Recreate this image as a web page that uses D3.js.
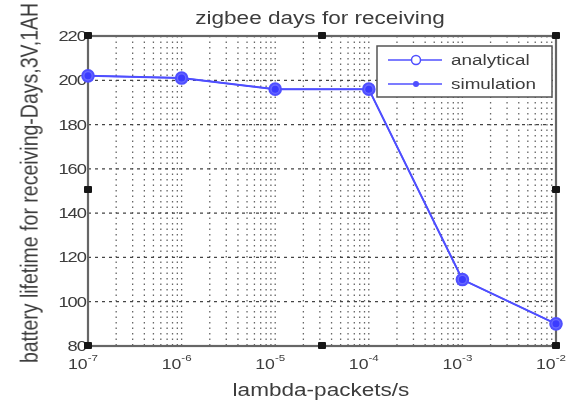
<!DOCTYPE html>
<html>
<head>
<meta charset="utf-8">
<script src="https://cdn.jsdelivr.net/npm/d3@7"></script>
<style>
  body { margin: 0; background: #fff; }
  text { font-family: "Liberation Sans", Arial, sans-serif; fill: #3c3c3c; }
</style>
</head>
<body>
<svg width="574" height="402"></svg>
<script>
  var lambda = [1e-7, 1e-6, 1e-5, 1e-4, 1e-3, 1e-2];
  var analytical = [202, 201, 196, 196, 110, 90];
  var simulation = [202, 201, 196, 196, 110, 90];
  var yTicks = [80, 100, 120, 140, 160, 180, 200, 220];
  var xTicks = [1e-7, 1e-6, 1e-5, 1e-4, 1e-3, 1e-2];
  var seriesNames = ["analytical", "simulation"];

(function (d3) {
  'use strict';

  var svg = d3.select("svg");
  var plotL = 88, plotR = 556, plotT = 36, plotB = 346;
  var blue = "#4f4fff";
  var stretch = 1.22; // the picture is a bit wider than tall

  svg.append("defs").append("filter").attr("id", "soft")
    .append("feGaussianBlur").attr("stdDeviation", 0.45);

  var x = d3.scaleLog().domain([1e-7, 1e-2]).range([plotL, plotR]);
  var y = d3.scaleLinear().domain([80, 220]).range([plotB, plotT]);

  var g = svg.append("g").attr("filter", "url(#soft)");

  function label(parent, px, py, size) {
    return parent.append("text")
      .attr("transform", "translate(" + px + "," + py + ") scale(" + stretch + ",1)")
      .attr("font-size", size);
  }

  // minor + major vertical grid
  var minor = [];
  for (var e = -7; e < -2; e++) {
    for (var m = 1; m <= 9; m++) minor.push(m * Math.pow(10, e));
  }
  g.selectAll(".vgrid")
    .data(minor.filter(function (v) { return v > 1e-7 && v < 1e-2; }))
    .enter().append("line")
    .attr("x1", function (d) { return x(d); })
    .attr("x2", function (d) { return x(d); })
    .attr("y1", plotT).attr("y2", plotB)
    .attr("stroke", "#666").attr("stroke-width", 1.3)
    .attr("stroke-dasharray", "1.5,4");

  g.selectAll(".hgrid")
    .data(yTicks.slice(1, -1))
    .enter().append("line")
    .attr("x1", plotL).attr("x2", plotR)
    .attr("y1", function (d) { return y(d); })
    .attr("y2", function (d) { return y(d); })
    .attr("stroke", "#444").attr("stroke-width", 1.3)
    .attr("stroke-dasharray", "3,4");

  // axes box
  g.append("rect")
    .attr("x", plotL).attr("y", plotT)
    .attr("width", plotR - plotL).attr("height", plotB - plotT)
    .attr("fill", "none").attr("stroke", "#666").attr("stroke-width", 2.2);

  // y tick labels
  yTicks.forEach(function (d) {
    label(g, plotL - 2, y(d) + 5, 15)
      .attr("text-anchor", "end")
      .attr("letter-spacing", -0.8)
      .attr("fill", "#505050")
      .text(d);
  });

  // x tick labels
  xTicks.forEach(function (d) {
    var t = label(g, x(d) - 5, 369, 14.5).attr("text-anchor", "middle")
      .attr("fill", "#505050");
    t.append("tspan").text("10");
    t.append("tspan")
      .attr("font-size", 9.5)
      .attr("dy", -8)
      .text(Math.round(Math.log10(d)));
  });

  // lines
  var line = d3.line()
    .x(function (d, i) { return x(lambda[i]); })
    .y(function (d) { return y(d); });

  g.append("path").datum(analytical)
    .attr("d", line).attr("fill", "none")
    .attr("stroke", blue).attr("stroke-width", 2);
  g.append("path").datum(simulation)
    .attr("d", line).attr("fill", "none")
    .attr("stroke", blue).attr("stroke-width", 1.5);

  g.selectAll(".mk1").data(analytical).enter().append("circle")
    .attr("cx", function (d, i) { return x(lambda[i]); })
    .attr("cy", function (d) { return y(d); })
    .attr("r", 5.8).attr("fill", "#6a6aff")
    .attr("stroke", blue).attr("stroke-width", 2);
  g.selectAll(".mk2").data(simulation).enter().append("circle")
    .attr("cx", function (d, i) { return x(lambda[i]); })
    .attr("cy", function (d) { return y(d); })
    .attr("r", 3.5).attr("fill", "#3a3aff");

  // selection handles
  var hx = [plotL, 322, plotR];
  var hy = [plotT, 190, plotB];
  hx.forEach(function (a, i) {
    hy.forEach(function (b, j) {
      if (i === 1 && j === 1) return;
      g.append("rect")
        .attr("x", a - 4).attr("y", b - 4)
        .attr("width", 8).attr("height", 7)
        .attr("rx", 1)
        .attr("fill", "#151515");
    });
  });

  // legend
  var lg = g.append("g").attr("transform", "translate(377,46)");
  lg.append("rect").attr("width", 175).attr("height", 51)
    .attr("fill", "#fff").attr("stroke", "#555").attr("stroke-width", 1.5);
  seriesNames.forEach(function (name, i) {
    var yy = 14 + i * 24;
    lg.append("line").attr("x1", 11).attr("x2", 65)
      .attr("y1", yy).attr("y2", yy)
      .attr("stroke", blue).attr("stroke-width", 1.5);
    if (i === 0) {
      lg.append("circle").attr("cx", 39).attr("cy", yy).attr("r", 4.5)
        .attr("fill", "#fff").attr("stroke", blue).attr("stroke-width", 1.5);
    } else {
      lg.append("circle").attr("cx", 39).attr("cy", yy).attr("r", 3)
        .attr("fill", blue);
    }
    label(lg, 74, yy + 5, 15.5).text(name);
  });

  // title and labels
  label(g, 320, 24, 18.5).attr("text-anchor", "middle")
    .text("zigbee days for receiving");
  label(g, 321, 396, 18.5).attr("text-anchor", "middle")
    .text("lambda-packets/s");
  g.append("text")
    .attr("transform", "translate(38,183) scale(" + stretch + ",1) rotate(-90)")
    .attr("text-anchor", "middle").attr("font-size", 19.5)
    .text("battery lifetime for receiving-Days,3V,1AH");
}(d3));
</script>
</body>
</html>
